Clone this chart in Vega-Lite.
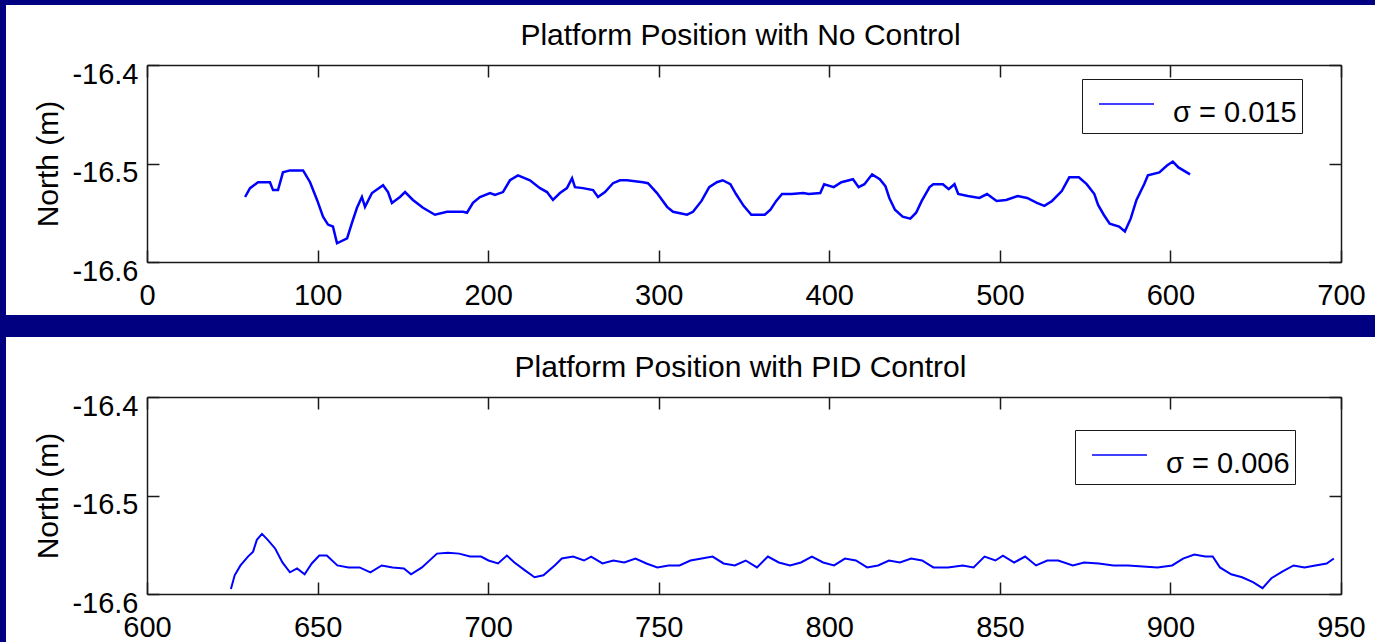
{
  "$schema": "https://vega.github.io/schema/vega-lite/v6.json",
  "background": "#000080",
  "padding": {"left": 6, "top": 5, "right": 0, "bottom": 0},
  "bounds": "flush",
  "spacing": 22,
  "datasets": {
    "nocontrol": [
      {"t": 57.5, "north": -16.534}, {"t": 60.4, "north": -16.525}, {"t": 65.1, "north": -16.519}, {"t": 72.1, "north": -16.519},
      {"t": 73.9, "north": -16.527}, {"t": 76.8, "north": -16.527}, {"t": 79.7, "north": -16.509}, {"t": 83.8, "north": -16.507},
      {"t": 91.5, "north": -16.507}, {"t": 95.6, "north": -16.519}, {"t": 99.7, "north": -16.537}, {"t": 103.2, "north": -16.554},
      {"t": 106.1, "north": -16.562}, {"t": 109.0, "north": -16.564}, {"t": 111.4, "north": -16.581}, {"t": 117.3, "north": -16.576},
      {"t": 120.2, "north": -16.56}, {"t": 123.1, "north": -16.545}, {"t": 126.0, "north": -16.534}, {"t": 127.8, "north": -16.544},
      {"t": 131.9, "north": -16.53}, {"t": 138.4, "north": -16.522}, {"t": 141.3, "north": -16.529}, {"t": 143.6, "north": -16.54},
      {"t": 148.3, "north": -16.534}, {"t": 151.3, "north": -16.529}, {"t": 155.9, "north": -16.537}, {"t": 161.8, "north": -16.545},
      {"t": 168.8, "north": -16.552}, {"t": 175.9, "north": -16.549}, {"t": 185.3, "north": -16.549}, {"t": 187.6, "north": -16.55},
      {"t": 191.1, "north": -16.54}, {"t": 195.2, "north": -16.534}, {"t": 201.1, "north": -16.53}, {"t": 204.0, "north": -16.532},
      {"t": 208.7, "north": -16.529}, {"t": 212.8, "north": -16.517}, {"t": 217.5, "north": -16.512}, {"t": 224.5, "north": -16.517},
      {"t": 230.4, "north": -16.525}, {"t": 234.5, "north": -16.529}, {"t": 238.0, "north": -16.537}, {"t": 242.1, "north": -16.53},
      {"t": 246.2, "north": -16.525}, {"t": 249.2, "north": -16.515}, {"t": 250.9, "north": -16.524}, {"t": 255.6, "north": -16.525},
      {"t": 261.5, "north": -16.527}, {"t": 264.4, "north": -16.534}, {"t": 268.5, "north": -16.529}, {"t": 273.2, "north": -16.52},
      {"t": 277.3, "north": -16.517}, {"t": 281.4, "north": -16.517}, {"t": 290.8, "north": -16.519}, {"t": 293.7, "north": -16.52},
      {"t": 299.0, "north": -16.53}, {"t": 304.9, "north": -16.544}, {"t": 308.4, "north": -16.549}, {"t": 316.6, "north": -16.552},
      {"t": 320.1, "north": -16.549}, {"t": 325.1, "north": -16.538}, {"t": 329.6, "north": -16.524}, {"t": 334.1, "north": -16.519},
      {"t": 337.5, "north": -16.517}, {"t": 342.0, "north": -16.521}, {"t": 345.3, "north": -16.531}, {"t": 349.8, "north": -16.543},
      {"t": 354.3, "north": -16.552}, {"t": 362.2, "north": -16.552}, {"t": 365.5, "north": -16.547}, {"t": 368.9, "north": -16.538},
      {"t": 372.3, "north": -16.531}, {"t": 377.9, "north": -16.531}, {"t": 384.7, "north": -16.53}, {"t": 388.0, "north": -16.531},
      {"t": 394.7, "north": -16.53}, {"t": 397.0, "north": -16.521}, {"t": 402.6, "north": -16.524}, {"t": 407.1, "north": -16.519},
      {"t": 413.9, "north": -16.516}, {"t": 417.2, "north": -16.524}, {"t": 420.6, "north": -16.521}, {"t": 425.1, "north": -16.511},
      {"t": 429.6, "north": -16.516}, {"t": 432.9, "north": -16.523}, {"t": 435.2, "north": -16.535}, {"t": 438.5, "north": -16.547},
      {"t": 443.0, "north": -16.554}, {"t": 447.5, "north": -16.556}, {"t": 450.9, "north": -16.55}, {"t": 454.2, "north": -16.538},
      {"t": 458.8, "north": -16.524}, {"t": 461.0, "north": -16.521}, {"t": 466.6, "north": -16.521}, {"t": 470.0, "north": -16.526},
      {"t": 473.4, "north": -16.521}, {"t": 475.6, "north": -16.531}, {"t": 481.2, "north": -16.533}, {"t": 488.0, "north": -16.535},
      {"t": 492.5, "north": -16.531}, {"t": 498.1, "north": -16.538}, {"t": 503.7, "north": -16.537}, {"t": 510.4, "north": -16.533},
      {"t": 516.0, "north": -16.535}, {"t": 521.7, "north": -16.54}, {"t": 526.1, "north": -16.543}, {"t": 530.6, "north": -16.538},
      {"t": 536.3, "north": -16.528}, {"t": 540.7, "north": -16.514}, {"t": 546.3, "north": -16.514}, {"t": 550.9, "north": -16.521},
      {"t": 555.4, "north": -16.531}, {"t": 557.6, "north": -16.542}, {"t": 560.9, "north": -16.552}, {"t": 564.4, "north": -16.561},
      {"t": 569.9, "north": -16.564}, {"t": 573.3, "north": -16.569}, {"t": 576.7, "north": -16.556}, {"t": 580.1, "north": -16.537},
      {"t": 584.6, "north": -16.521}, {"t": 586.8, "north": -16.512}, {"t": 593.5, "north": -16.509}, {"t": 598.0, "north": -16.502},
      {"t": 601.4, "north": -16.498}, {"t": 604.7, "north": -16.504}, {"t": 611.5, "north": -16.511}
    ],
    "pid": [
      {"t": 624.6, "north": -16.595}, {"t": 625.7, "north": -16.581}, {"t": 627.4, "north": -16.571}, {"t": 629.6, "north": -16.562},
      {"t": 631.1, "north": -16.557}, {"t": 632.2, "north": -16.545}, {"t": 633.7, "north": -16.539}, {"t": 635.4, "north": -16.545},
      {"t": 637.6, "north": -16.554}, {"t": 639.7, "north": -16.568}, {"t": 641.9, "north": -16.578}, {"t": 644.0, "north": -16.574},
      {"t": 646.2, "north": -16.58}, {"t": 648.3, "north": -16.569}, {"t": 650.5, "north": -16.561}, {"t": 652.7, "north": -16.561},
      {"t": 655.8, "north": -16.571}, {"t": 659.1, "north": -16.573}, {"t": 662.3, "north": -16.573}, {"t": 665.5, "north": -16.578},
      {"t": 668.8, "north": -16.571}, {"t": 672.0, "north": -16.573}, {"t": 675.3, "north": -16.574}, {"t": 677.4, "north": -16.58},
      {"t": 680.6, "north": -16.573}, {"t": 685.0, "north": -16.559}, {"t": 688.2, "north": -16.558}, {"t": 691.5, "north": -16.559},
      {"t": 694.7, "north": -16.562}, {"t": 697.9, "north": -16.562}, {"t": 700.1, "north": -16.566}, {"t": 702.9, "north": -16.569},
      {"t": 705.5, "north": -16.561}, {"t": 707.7, "north": -16.568}, {"t": 710.8, "north": -16.576}, {"t": 713.6, "north": -16.583},
      {"t": 716.2, "north": -16.581}, {"t": 719.5, "north": -16.571}, {"t": 721.6, "north": -16.564}, {"t": 724.9, "north": -16.562},
      {"t": 728.1, "north": -16.566}, {"t": 730.2, "north": -16.562}, {"t": 733.5, "north": -16.569}, {"t": 736.7, "north": -16.566},
      {"t": 739.9, "north": -16.568}, {"t": 743.2, "north": -16.564}, {"t": 746.4, "north": -16.569}, {"t": 749.6, "north": -16.573},
      {"t": 752.9, "north": -16.571}, {"t": 756.1, "north": -16.571}, {"t": 759.3, "north": -16.566}, {"t": 762.6, "north": -16.564},
      {"t": 765.8, "north": -16.562}, {"t": 769.0, "north": -16.569}, {"t": 772.3, "north": -16.571}, {"t": 775.5, "north": -16.566},
      {"t": 778.8, "north": -16.573}, {"t": 782.0, "north": -16.562}, {"t": 785.2, "north": -16.568}, {"t": 788.5, "north": -16.571},
      {"t": 791.7, "north": -16.568}, {"t": 794.9, "north": -16.562}, {"t": 798.2, "north": -16.568}, {"t": 801.4, "north": -16.571},
      {"t": 804.6, "north": -16.564}, {"t": 807.8, "north": -16.566}, {"t": 811.1, "north": -16.573}, {"t": 814.3, "north": -16.571},
      {"t": 817.5, "north": -16.566}, {"t": 820.7, "north": -16.568}, {"t": 824.0, "north": -16.564}, {"t": 827.2, "north": -16.566},
      {"t": 830.5, "north": -16.573}, {"t": 834.8, "north": -16.573}, {"t": 839.1, "north": -16.571}, {"t": 842.3, "north": -16.573},
      {"t": 845.5, "north": -16.562}, {"t": 848.7, "north": -16.566}, {"t": 850.9, "north": -16.561}, {"t": 854.2, "north": -16.568},
      {"t": 857.4, "north": -16.562}, {"t": 860.6, "north": -16.571}, {"t": 863.9, "north": -16.566}, {"t": 867.1, "north": -16.566},
      {"t": 871.4, "north": -16.571}, {"t": 874.7, "north": -16.568}, {"t": 879.0, "north": -16.569}, {"t": 883.3, "north": -16.571},
      {"t": 887.6, "north": -16.571}, {"t": 891.9, "north": -16.572}, {"t": 896.2, "north": -16.573}, {"t": 900.5, "north": -16.571},
      {"t": 903.7, "north": -16.564}, {"t": 907.0, "north": -16.56}, {"t": 910.2, "north": -16.562}, {"t": 912.4, "north": -16.562},
      {"t": 914.5, "north": -16.573}, {"t": 917.8, "north": -16.58}, {"t": 921.0, "north": -16.583}, {"t": 924.2, "north": -16.588},
      {"t": 927.0, "north": -16.594}, {"t": 929.6, "north": -16.584}, {"t": 932.9, "north": -16.577}, {"t": 936.1, "north": -16.571},
      {"t": 939.3, "north": -16.573}, {"t": 942.5, "north": -16.571}, {"t": 945.8, "north": -16.569}, {"t": 947.9, "north": -16.564}
    ]
  },
  "resolve": {
    "scale": {"x": "independent", "y": "independent", "color": "independent"},
    "axis": {"x": "independent", "y": "independent"},
    "legend": {"color": "independent"}
  },
  "vconcat": [
    {
      "width": 1369,
      "height": 310,
      "title": {"text": "Platform Position with No Control"},
      "data": {"name": "nocontrol"},
      "resolve": {"axis": {"x": "independent", "y": "independent"}},
      "layer": [
        {
          "mark": {"type": "line", "strokeWidth": 2.5},
          "encoding": {
            "x": {"field": "t", "type": "quantitative",
                  "scale": {"domain": [0, 700], "range": [141, 1335], "nice": false, "zero": false},
                  "axis": {"orient": "bottom", "offset": -53, "values": [0, 100, 200, 300, 400, 500, 600, 700], "title": null}},
            "y": {"field": "north", "type": "quantitative",
                  "scale": {"domain": [-16.6, -16.4], "range": [257, 60], "nice": false, "zero": false},
                  "axis": {"orient": "left", "offset": -141, "values": [-16.6, -16.5, -16.4], "title": "North (m)",
                           "labelExpr": "'-' + format(abs(datum.value), '.1f')"}},
            "color": {"datum": "σ = 0.015", "type": "nominal",
                      "scale": {"range": ["#0000ff"]},
                      "legend": {"legendX": 1076, "legendY": 74,
                                 "encode": {"labels": {"update": {"dy": {"value": 9}}}}}}
          }
        },
        {
          "mark": {"type": "line", "opacity": 0},
          "encoding": {
            "x": {"field": "t", "type": "quantitative",
                  "scale": {"domain": [0, 700], "range": [141, 1335], "nice": false, "zero": false},
                  "axis": {"orient": "top", "offset": -60, "values": [0, 100, 200, 300, 400, 500, 600, 700], "labels": false, "title": null}},
            "y": {"field": "north", "type": "quantitative",
                  "scale": {"domain": [-16.6, -16.4], "range": [257, 60], "nice": false, "zero": false},
                  "axis": {"orient": "right", "offset": -34, "values": [-16.6, -16.5, -16.4], "labels": false, "title": null}}
          }
        }
      ]
    },
    {
      "width": 1369,
      "height": 305,
      "title": {"text": "Platform Position with PID Control"},
      "data": {"name": "pid"},
      "resolve": {"axis": {"x": "independent", "y": "independent"}},
      "layer": [
        {
          "mark": {"type": "line", "strokeWidth": 2},
          "encoding": {
            "x": {"field": "t", "type": "quantitative",
                  "scale": {"domain": [600, 950], "range": [141, 1335], "nice": false, "zero": false},
                  "axis": {"orient": "bottom", "offset": -48, "values": [600, 650, 700, 750, 800, 850, 900, 950], "title": null}},
            "y": {"field": "north", "type": "quantitative",
                  "scale": {"domain": [-16.6, -16.4], "range": [257, 60], "nice": false, "zero": false},
                  "axis": {"orient": "left", "offset": -141, "values": [-16.6, -16.5, -16.4], "title": "North (m)",
                           "labelExpr": "'-' + format(abs(datum.value), '.1f')"}},
            "color": {"datum": "σ = 0.006", "type": "nominal",
                      "scale": {"range": ["#0000ff"]},
                      "legend": {"legendX": 1069, "legendY": 93,
                                 "encode": {"labels": {"update": {"dy": {"value": 9}}}}}}
          }
        },
        {
          "mark": {"type": "line", "opacity": 0},
          "encoding": {
            "x": {"field": "t", "type": "quantitative",
                  "scale": {"domain": [600, 950], "range": [141, 1335], "nice": false, "zero": false},
                  "axis": {"orient": "top", "offset": -60, "values": [600, 650, 700, 750, 800, 850, 900, 950], "labels": false, "title": null}},
            "y": {"field": "north", "type": "quantitative",
                  "scale": {"domain": [-16.6, -16.4], "range": [257, 60], "nice": false, "zero": false},
                  "axis": {"orient": "right", "offset": -34, "values": [-16.6, -16.5, -16.4], "labels": false, "title": null}}
          }
        }
      ]
    }
  ],
  "config": {
    "font": "Liberation Sans",
    "view": {"fill": "white", "stroke": null},
    "axis": {
      "grid": false,
      "domainColor": "#1a1a1a", "domainWidth": 1.5,
      "tickColor": "#1a1a1a", "tickWidth": 1.5, "tickSize": -12,
      "labelFont": "Liberation Sans", "labelFontSize": 29, "labelColor": "#000",
      "labelFlush": false, "labelOverlap": false, "labelBound": false,
      "titleFont": "Liberation Sans", "titleFontSize": 30, "titleFontWeight": "normal", "titleColor": "#000", "titlePadding": 8
    },
    "axisBottom": {"labelPadding": 31, "labelBaseline": "top"},
    "axisLeft": {"labelPadding": 21, "labelOffset": 9},
    "title": {
      "font": "Liberation Sans", "fontSize": 30, "fontWeight": "normal", "color": "#000",
      "anchor": "middle", "frame": "group", "baseline": "alphabetic", "offset": -46, "dx": 50
    },
    "legend": {
      "orient": "none", "title": null, "padding": 5,
      "fillColor": "white", "strokeColor": "#1a1a1a",
      "labelFont": "Liberation Sans", "labelFontSize": 29, "labelColor": "#000", "labelLimit": 400,
      "symbolType": "M-3,0H3M21.6,0h0.05", "symbolSize": 336, "symbolStrokeWidth": 1.5,
      "symbolOffset": 25, "labelOffset": 32, "clipHeight": 40
    }
  }
}
